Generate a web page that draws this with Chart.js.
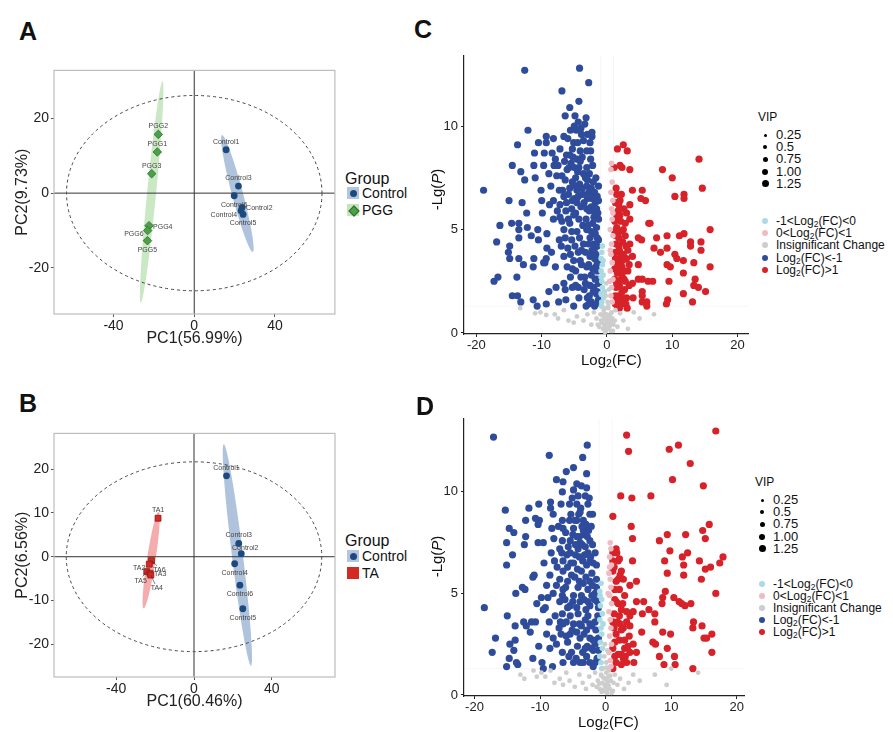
<!DOCTYPE html>
<html>
<head>
<meta charset="utf-8">
<script src="https://cdn.jsdelivr.net/npm/chart.js@4.4.1/dist/chart.umd.min.js"></script>
<style>
body { margin: 0; background: #fff; font-family: "Liberation Sans", Arial, sans-serif; color: #111; }
#page { position: relative; width: 893px; height: 732px; overflow: hidden; }
canvas { position: absolute; }
.t { position: absolute; white-space: nowrap; line-height: 1; }
.letter { font-size: 25px; font-weight: bold; }
.key { position: absolute; }
.dot { position: absolute; border-radius: 50%; }
sub { font-size: 70%; vertical-align: -2px; line-height: 0; }
</style>
</head>
<body>
<div id="page">
  <canvas id="pcaA" width="340" height="290" style="left:0;top:60px"></canvas>
  <canvas id="pcaB" width="340" height="290" style="left:0;top:423px"></canvas>
  <canvas id="volC" width="340" height="311" style="left:415px;top:45px"></canvas>
  <canvas id="volD" width="340" height="310" style="left:415px;top:408px"></canvas>

  <div class="t letter" style="left:19px;top:19px">A</div>
  <div class="t letter" style="left:19px;top:391px">B</div>
  <div class="t letter" style="left:414px;top:17px">C</div>
  <div class="t letter" style="left:416px;top:394px">D</div>

  <!-- PCA legends -->
  <div class="t" style="left:345px;top:171px;font-size:16px">Group</div>
  <div class="key" style="left:347px;top:187px;width:12px;height:12px;background:#b3c6de"></div>
  <div class="dot" style="left:350px;top:190px;width:7px;height:7px;background:#1c4a7e"></div>
  <div class="t" style="left:362px;top:186px;font-size:14px">Control</div>
  <div class="key" style="left:347px;top:204px;width:12px;height:12px;background:#c5e6bd"></div>
  <div class="key" style="left:349.5px;top:206.5px;width:6px;height:6px;background:#4e9f49;border:0.5px solid #2d6e2a;transform:rotate(45deg)"></div>
  <div class="t" style="left:362px;top:203px;font-size:14px">PGG</div>

  <div class="t" style="left:345px;top:533px;font-size:16px">Group</div>
  <div class="key" style="left:347px;top:550px;width:12px;height:12px;background:#b3c6de"></div>
  <div class="dot" style="left:350px;top:553px;width:7px;height:7px;background:#1c4a7e"></div>
  <div class="t" style="left:362px;top:549px;font-size:14px">Control</div>
  <div class="key" style="left:347px;top:567px;width:12px;height:12px;background:#d42a24"></div>
  <div class="t" style="left:362px;top:566px;font-size:14px">TA</div>

  <!-- volcano axis titles -->
  <div class="t" style="left:581px;top:352px;font-size:15px">Log<sub>2</sub>(FC)</div>
  <div class="t" style="left:416px;top:182px;font-size:15px;transform:rotate(-90deg)">-Lg(<i>P</i>)</div>
  <div class="t" style="left:578px;top:714px;font-size:15px">Log<sub>2</sub>(FC)</div>
  <div class="t" style="left:416px;top:549px;font-size:15px;transform:rotate(-90deg)">-Lg(<i>P</i>)</div>

  <div id="legC"></div>
  <div id="legD"></div>
</div>

<script>
// ---------- PCA, panel A (Control vs PGG) ----------
const pcaA_ctrlNames = ['Control1', 'Control3', 'Control6', 'Control2', 'Control4', 'Control5'];
const pcaA_ctrlPC1 = [15.8, 21.9, 19.8, 23.7, 23.2, 24.2];
const pcaA_ctrlPC2 = [11.6, 1.9, -0.7, -3.8, -4.7, -5.7];
const pcaA_ctrlLabelPos = ['a', 'a', 'b', 'r', 'l', 'b'];
const pcaA_pggNames = ['PGG2', 'PGG1', 'PGG3', 'PGG4', 'PGG6', 'PGG5'];
const pcaA_pggPC1 = [-17.8, -18.3, -21.1, -22.4, -23.1, -23.2];
const pcaA_pggPC2 = [15.7, 11.0, 5.2, -8.7, -10.0, -12.7];
const pcaA_pggLabelPos = ['a', 'a', 'a', 'r', 'l', 'b'];
// group ellipse major axis end points (PC1, PC2, PC1, PC2)
const pcaA_ctrlEllipse = [13.7, 15.5, 29.0, -15.7];
const pcaA_pggEllipse = [-15.7, 29.9, -26.5, -29.3];
const pcaA_hotelling = [63.3, 26.1];
const pcaA_xTicks = [-40, 0, 40];
const pcaA_yTicks = [-20, 0, 20];

// ---------- PCA, panel B (Control vs TA) ----------
const pcaB_ctrlNames = ['Control1', 'Control3', 'Control2', 'Control4', 'Control6', 'Control5'];
const pcaB_ctrlPC1 = [16.7, 23.0, 24.3, 20.9, 23.6, 25.1];
const pcaB_ctrlPC2 = [18.5, 3.05, 0.7, -1.6, -6.5, -11.9];
const pcaB_ctrlLabelPos = ['a', 'a', 'ar', 'b', 'b', 'b'];
const pcaB_taNames = ['TA1', 'TA6', 'TA2', 'TA5', 'TA3', 'TA4'];
const pcaB_taPC1 = [-18.5, -21.9, -23.0, -24.3, -22.6, -22.2];
const pcaB_taPC2 = [8.8, -0.9, -1.7, -3.4, -3.8, -4.2];
const pcaB_taLabelPos = ['a', 'br', 'l', 'bl', 'r', 'bb'];
const pcaB_ctrlEllipse = [15.3, 25.7, 29.3, -24.9];
const pcaB_taEllipse = [-18.2, 10.3, -25.9, -11.8];
const pcaB_hotelling = [65.7, 21.7];
const pcaB_xTicks = [-40, 0, 40];
const pcaB_yTicks = [-20, -10, 0, 10, 20];

// ---------- Volcano, panel C ----------
const volC_down = [
  [-12.6,12.7],[-4.2,12.8],[-2.8,12.1],[-6.9,11.7],[-4.3,11.2],[-5.7,10.9],[-6.4,10.5],[-4.9,10.5],
  [-12.1,9.8],[-3.4,10.1],[-4.0,9.9],[-5.0,10.0],[-2.3,9.7],[-2.3,9.5],[-13.7,9.1],[-10.5,9.2],
  [-9.3,9.5],[-8.2,9.4],[-9.3,9.2],[-6.6,9.5],[-6.0,9.4],[-5.1,9.2],[-2.6,9.2],[-11.1,8.7],
  [-9.6,8.7],[-8.4,8.7],[-7.2,8.9],[-6.2,8.6],[-4.1,8.8],[-2.5,8.8],[-14.5,8.1],[-13.2,7.8],
  [-11.2,8.1],[-9.7,8.1],[-8.1,8.1],[-7.9,8.4],[-6.5,8.3],[-5.7,8.6],[-5.2,8.5],[-12.6,7.4],
  [-11.0,7.5],[-8.9,7.7],[-7.7,7.6],[-6.1,7.9],[-3.1,8.0],[-2.5,8.4],[-18.9,6.9],[-15.0,6.4],
  [-10.1,6.9],[-8.6,7.1],[-7.3,6.9],[-6.6,6.6],[-5.9,6.7],[-4.6,6.9],[-3.1,7.1],[-2.0,6.7],
  [-13.0,6.3],[-10.0,6.4],[-8.2,6.4],[-7.2,6.2],[-5.4,6.0],[-3.1,6.0],[-1.8,6.3],[-12.3,5.8],
  [-13.5,5.3],[-8.2,5.5],[-7.2,5.6],[-5.9,5.5],[-4.8,5.8],[-3.2,5.5],[-2.0,5.6],[-16.4,5.2],
  [-14.6,5.3],[-12.2,5.1],[-10.6,5.0],[-9.2,4.8],[-6.6,5.0],[-4.6,4.9],[-3.1,5.0],[-1.8,4.8],
  [-16.9,4.4],[-14.9,4.2],[-13.5,5.0],[-13.5,4.6],[-11.6,4.7],[-10.5,4.5],[-9.2,4.1],[-7.3,4.5],
  [-5.4,4.5],[-3.6,4.3],[-2.0,4.3],[-15.1,3.9],[-14.9,3.6],[-13.5,3.6],[-11.2,3.6],[-9.3,3.6],
  [-6.6,3.7],[-5.1,3.5],[-4.1,3.5],[-2.6,3.7],[-1.7,3.8],[-12.8,3.3],[-9.7,3.4],[-7.9,3.2],
  [-6.1,3.2],[-4.8,3.0],[-3.1,3.2],[-1.7,3.2],[-16.7,2.7],[-17.3,2.5],[-13.8,2.7],[-11.3,3.2],
  [-9.5,3.4],[-7.8,2.2],[-6.6,2.4],[-4.8,2.3],[-3.3,2.4],[-2.0,2.2],[-14.5,1.8],[-13.7,1.8],
  [-11.3,1.6],[-8.9,2.0],[-6.4,2.1],[-3.0,1.7],[-1.6,1.9],[-13.2,1.5],[-10.7,1.3],[-9.3,1.4],
  [-7.4,1.5],[-6.3,1.6],[-5.1,1.3],[-3.2,1.3],[-1.9,1.3],[-1.3,1.6],[-1.3,2.4],[-1.3,3.5],
  [-1.3,4.5],[-1.3,5.5],[-1.3,6.4],[-1.3,7.1],[-5.5,8.2],[-5.0,8.0],[-4.5,7.8],[-4.8,7.5],
  [-5.3,7.3],[-4.2,7.2],[-3.8,7.0],[-2.8,6.8],[-2.4,6.5],[-3.5,6.3],[-4.0,6.1],[-2.7,5.9],
  [-2.2,5.3],[-1.6,5.1],[-2.6,4.6],[-4.2,4.6],[-3.9,4.0],[-2.3,4.0],[-1.5,3.0],[-2.4,2.8],
  [-1.8,2.6],[-1.5,2.0],[-2.4,1.5],[-4.0,2.7],[-5.6,2.7],[-6.0,4.1],[-5.7,5.3],[-6.3,5.9],
  [-5.0,6.5],[-4.4,6.6],[-3.3,7.5],[-2.7,7.7],[-3.8,8.5],[-4.5,9.2],[-3.0,9.6],[-4.7,9.8],
  [-3.6,9.3],[-2.1,7.3],[-1.6,6.0],[-1.5,4.2],[-1.9,3.6],[-2.8,3.3],[-3.5,2.1],[-6.8,6.9],
  [-7.6,5.9],[-8.8,6.2],[-7.0,4.2],[-8.5,3.9],[-9.9,5.8],
  [-5.8,8.0],[-5.3,8.9],[-4.6,8.4],[-4.3,8.0],[-3.6,7.7],[-3.0,7.4],[-2.4,7.0],[-1.9,6.8],
  [-1.5,6.6],[-1.9,5.9],[-2.4,6.1],[-3.0,6.5],[-3.7,6.7],[-4.6,6.3],[-5.3,6.4],[-5.1,5.7],
  [-4.3,5.5],[-3.7,5.2],[-2.9,5.2],[-2.4,4.9],[-1.5,4.6],[-1.9,4.1],[-2.8,4.3],[-3.3,3.9],
  [-4.4,3.9],[-5.6,3.8],[-6.4,4.6],[-6.9,5.4],[-6.2,6.3],[-6.9,7.6],[-7.5,8.1],[-5.4,4.9],
  [-4.9,4.2],[-3.9,3.3],[-2.2,3.1],[-1.5,2.6],[-2.1,2.0],[-2.7,1.8],[-1.7,1.4],[-2.8,1.4],
  [-4.3,1.7],[-4.4,2.2],[-5.3,2.2],[-5.3,3.1],[-3.4,2.7],[-2.6,2.3],[-1.5,3.4],[-2.0,3.9],
  [-1.4,5.8],[-1.7,7.5],[-2.2,8.1],[-3.9,9.6],[-5.6,9.8],[-3.2,10.4],[-4.4,10.2],[-3.1,8.8],
  [-4.1,8.3],[-4.8,7.1],[-5.7,7.0],[-6.4,7.4]
];
const volC_up = [
  [1.6,8.9],[2.5,9.1],[3.1,8.8],[1.1,8.0],[2.0,8.1],[2.3,8.0],[3.5,7.9],[8.5,7.9],[10.0,7.5],
  [14.1,8.4],[14.6,7.0],[3.9,6.9],[5.4,6.9],[2.2,6.7],[10.4,6.6],[11.8,6.7],[11.8,6.5],[5.2,6.5],
  [5.9,6.4],[3.5,6.2],[1.3,6.3],[1.7,5.9],[2.0,5.7],[2.1,5.4],[2.8,5.3],[3.5,5.5],[6.4,5.3],
  [6.6,5.3],[15.8,5.0],[1.2,4.9],[2.8,4.7],[4.8,4.6],[5.3,4.5],[7.6,4.6],[9.2,4.7],[11.1,4.7],
  [11.8,4.8],[1.4,4.3],[1.8,4.2],[3.5,4.3],[12.8,4.4],[14.4,4.4],[12.8,4.2],[7.2,4.1],[8.2,3.9],
  [9.2,4.1],[10.4,3.8],[10.7,3.6],[11.7,3.5],[14.4,4.0],[2.1,3.7],[3.9,3.7],[3.0,3.6],[2.3,3.2],
  [4.8,3.3],[9.2,3.3],[9.7,3.2],[13.3,3.4],[15.8,3.2],[1.6,2.9],[3.2,3.0],[11.7,2.9],[3.4,2.3],
  [3.9,2.4],[4.8,2.6],[5.4,2.6],[6.3,2.5],[7.0,2.5],[9.5,2.5],[13.5,2.6],[13.3,2.3],[14.0,2.2],
  [15.1,2.0],[1.4,2.2],[2.3,2.0],[1.8,1.8],[3.0,1.7],[4.0,1.7],[5.4,2.0],[5.4,1.8],[11.7,1.9],
  [13.1,1.5],[1.3,1.4],[2.3,1.4],[3.1,1.2],[5.4,1.5],[6.1,1.5],[6.1,1.3],[9.3,1.6],[9.1,1.4],
  [1.5,5.1],[1.8,4.6],[2.4,4.4],[1.3,3.9],[2.0,3.4],[2.6,3.0],[1.5,3.4],[2.2,2.6],[1.2,2.6],
  [1.9,2.3],[2.7,2.1],[1.6,1.6],[2.5,1.7],[1.9,1.2],[2.0,4.9],[1.5,5.6],[2.6,6.0],[3.2,4.0],
  [1.2,3.1],[2.9,4.2],[1.4,7.0],[1.8,6.2],
  [1.4,4.7],[1.9,4.0],[2.5,3.8],[1.3,3.6],[2.3,2.8],[1.5,2.4],[2.8,2.5],[2.1,1.5],[1.3,1.8],
  [2.9,1.4],[1.7,3.1],[2.4,3.5],[1.2,5.4],[2.0,6.4],[1.5,6.7],[2.5,5.0],[3.0,5.8],[1.6,1.3],
  [2.6,2.6],[3.4,3.3]
];
const volC_weakDown = [
  [-0.8,3.9],[-0.9,3.6],[-0.7,3.3],[-0.9,3.0],[-0.6,2.8],[-0.8,2.5],[-0.7,2.2],[-0.9,1.9],
  [-0.5,1.7],[-0.8,1.5],[-0.6,3.5],[-0.9,2.7],[-0.4,2.0],[-0.7,4.2],[-0.85,1.3]
];
const volC_weakUp = [
  [0.7,8.2],[0.6,7.9],[0.8,7.3],[0.6,6.8],[0.9,6.4],[0.7,6.0],[0.8,5.5],[0.5,5.0],[0.9,4.7],
  [0.7,4.3],[0.6,3.8],[0.8,3.4],[0.5,3.0],[0.9,2.6],[0.7,2.2],[0.6,1.8],[0.8,1.5],[0.4,2.5],
  [0.5,4.0],[0.9,5.8]
];
const volC_ns = [
  [-13.3,1.2],[-11.0,0.95],[-10.2,1.0],[-9.3,0.87],[-8.0,0.9],[-7.5,0.7],[-6.6,1.1],[-5.9,0.6],
  [-5.1,0.5],[-4.6,0.8],[-3.6,0.6],[-3.0,0.9],[-2.4,0.4],[-2.0,1.0],[-1.6,0.7],[-1.2,0.3],
  [-1.0,0.9],[-0.8,0.5],[-0.6,0.2],[-0.5,1.1],[-0.4,0.7],[-0.3,0.4],[-0.2,0.1],[-0.1,0.9],
  [0,0.5],[0.1,0.2],[0.2,1.2],[0.3,0.6],[0.4,0.3],[0.5,0.9],[0.6,0.1],[0.8,0.7],[1.0,0.4],
  [1.3,1.1],[1.6,0.3],[2.0,0.95],[2.5,0.6],[3.2,0.2],[4.1,1.0],[5.0,0.7],[7.2,0.9],
  [-0.3,0.05],[0.2,0.35],[-0.5,0.45],[0.6,0.55],[-0.15,0.65],[0.35,0.8],[-0.7,0.85],
  [-0.4,1.2],[0.1,1.5],[-0.2,1.8],[0.3,2.1],[-0.1,2.4],[0.2,1.3],[-0.6,0.9],[0.7,1.0],
  [-0.3,0.9],[0.45,0.45],[-0.45,0.25],[0.15,0.75],[-0.9,0.6],[1.2,0.6],[-1.4,0.4],[0.9,0.1]
];

// ---------- Volcano, panel D ----------
const volD_down = [
  [-17.1,12.7],[-2.8,12.3],[-8.6,11.8],[-3.5,11.7],[-4.9,11.2],[-6.0,11.0],[-2.9,10.9],[-7.5,10.6],
  [-6.5,10.5],[-4.4,10.4],[-3.7,10.3],[-2.9,10.2],[-6.6,10.0],[-4.9,10.1],[-4.2,9.8],[-10.2,9.4],
  [-8.4,9.5],[-6.8,9.4],[-5.5,9.4],[-4.4,9.4],[-2.7,9.4],[-15.3,9.1],[-11.7,9.2],[-8.4,9.2],
  [-8.0,8.9],[-3.8,9.2],[-2.4,8.9],[-12.2,8.6],[-10.7,8.7],[-10.1,8.6],[-6.6,8.6],[-5.5,8.6],
  [-4.4,8.6],[-3.4,8.6],[-2.0,8.9],[-14.7,8.2],[-14.0,8.0],[-10.3,8.4],[-8.2,8.2],[-6.5,8.2],
  [-4.9,8.2],[-3.4,8.1],[-12.2,7.8],[-15.1,7.5],[-10.3,7.5],[-9.5,7.5],[-7.9,7.7],[-6.6,7.6],
  [-5.4,7.6],[-3.9,7.5],[-2.4,7.6],[-14.2,6.9],[-12.4,7.4],[-8.3,7.0],[-7.0,7.2],[-5.4,7.0],
  [-4.2,7.2],[-2.7,7.0],[-15.1,6.4],[-9.4,6.5],[-6.5,6.6],[-4.9,6.5],[-2.9,6.4],[-1.4,6.4],
  [-10.9,5.9],[-11.1,5.8],[-8.5,5.9],[-6.5,6.1],[-5.2,5.9],[-3.7,6.1],[-2.1,6.0],[-1.4,5.7],
  [-9.0,5.4],[-7.5,5.4],[-6.5,5.2],[-4.2,5.3],[-2.4,5.6],[-1.4,5.3],[-12.7,5.3],[-12.3,5.2],
  [-13.7,5.0],[-6.6,4.9],[-4.9,4.9],[-3.7,4.9],[-2.1,4.9],[-9.8,4.8],[-8.8,4.8],[-10.5,4.5],
  [-9.2,4.3],[-18.5,4.3],[-9.5,4.2],[-7.0,4.6],[-5.4,4.4],[-3.9,4.6],[-2.4,4.4],[-1.1,4.3],
  [-15.0,3.9],[-6.6,4.0],[-5.4,3.9],[-4.2,4.0],[-2.7,3.9],[-1.2,3.9],[-12.5,3.6],[-11.3,3.6],
  [-10.7,3.6],[-8.6,3.6],[-12.1,3.4],[-13.8,3.4],[-6.5,3.5],[-4.9,3.5],[-3.7,3.4],[-2.1,3.4],
  [-16.8,2.8],[-11.5,3.1],[-14.6,2.5],[-13.8,2.7],[-8.0,2.8],[-6.8,3.0],[-5.4,3.0],[-3.9,2.8],
  [-2.4,2.8],[-1.1,2.8],[-17.3,2.1],[-14.0,2.2],[-8.5,2.3],[-7.5,2.5],[-6.6,2.1],[-5.2,2.1],
  [-3.5,2.1],[-1.9,2.2],[-1.1,2.2],[-14.7,1.8],[-13.6,1.6],[-11.1,1.8],[-15.1,1.4],[-13.4,1.5],
  [-9.7,1.6],[-9.5,1.3],[-8.1,1.4],[-6.5,1.6],[-4.9,1.6],[-3.9,1.6],[-2.4,1.6],[-1.6,1.6],
  [-3.0,8.4],[-3.3,7.9],[-4.0,7.8],[-4.6,7.4],[-3.1,7.3],[-2.3,6.8],[-3.5,6.6],[-4.3,6.2],
  [-3.0,5.8],[-2.7,5.2],[-3.3,4.7],[-1.7,4.7],[-1.6,3.6],[-3.1,3.7],[-4.4,3.1],[-2.9,3.2],
  [-1.6,2.5],[-2.8,2.4],[-5.8,5.6],[-5.9,6.9],[-5.0,7.9],[-6.1,8.0],[-7.2,8.3],[-7.4,6.3],
  [-8.0,5.0],[-7.7,3.9],[-7.1,3.3],[-9.0,3.0],[-10.2,2.4],[-5.8,2.6],[-4.3,2.4],[-6.2,4.7],
  [-7.8,6.6],[-3.9,9.0],[-5.1,9.7],
  [-5.3,8.9],[-4.7,8.6],[-4.1,8.9],[-3.1,9.8],[-2.5,9.7],[-3.6,8.3],[-2.6,8.1],[-2.0,7.4],
  [-1.6,7.0],[-1.9,6.5],[-2.4,6.6],[-3.2,6.9],[-4.0,6.8],[-4.6,6.9],[-5.3,6.5],[-5.8,6.3],
  [-4.7,5.8],[-4.0,5.6],[-3.4,5.5],[-2.0,5.4],[-1.6,5.0],[-1.3,4.6],[-2.7,4.6],[-3.0,4.2],
  [-4.4,4.3],[-5.0,4.6],[-5.8,4.3],[-6.0,3.6],[-5.1,3.2],[-4.0,3.5],[-3.3,3.0],[-2.4,3.5],
  [-1.5,3.2],[-1.9,2.7],[-2.2,2.3],[-3.1,2.3],[-3.4,1.6],[-2.9,1.9],[-1.3,1.8],[-1.9,1.4],
  [-4.5,1.8],[-5.6,1.9],[-6.0,2.9],[-6.9,3.6],[-6.1,5.3],[-7.0,5.7],[-6.7,7.0],[-5.7,7.3],
  [-4.4,7.8],[-3.6,7.4],[-2.8,7.8],[-2.2,8.3]
];
const volD_up = [
  [3.2,12.8],[3.5,12.0],[16.8,13.0],[9.7,12.1],[11.1,12.3],[12.9,11.4],[10.2,10.6],[14.9,10.3],
  [2.3,9.8],[4.0,9.7],[6.9,9.8],[1.1,8.8],[3.9,8.3],[4.1,7.7],[15.8,8.4],[14.8,8.1],[9.4,7.9],
  [12.2,7.9],[15.2,7.7],[8.2,7.6],[9.8,7.1],[12.5,7.0],[11.7,6.8],[9.0,6.6],[11.9,6.4],[14.3,6.6],
  [17.9,6.8],[17.4,6.5],[16.0,6.3],[15.2,6.2],[9.4,6.0],[11.9,5.9],[14.6,5.7],[16.8,5.0],[4.7,5.6],
  [4.1,6.6],[1.9,6.6],[1.6,7.2],[1.1,7.0],[2.1,6.7],[2.4,6.1],[2.7,5.7],[3.7,5.4],[9.1,5.1],
  [8.7,4.8],[8.6,4.5],[10.4,4.8],[11.2,4.6],[11.6,4.5],[12.1,4.4],[13.0,4.5],[4.7,4.6],[5.8,4.6],
  [6.6,4.2],[5.6,4.0],[7.5,4.0],[7.5,3.6],[13.4,3.6],[13.3,3.3],[14.7,3.4],[15.0,2.8],[15.4,2.8],
  [16.2,3.0],[16.2,2.1],[8.7,3.1],[9.9,3.0],[7.2,2.6],[7.6,2.5],[5.5,3.1],[3.6,2.9],[4.2,2.5],
  [4.7,2.1],[9.4,2.3],[8.2,1.9],[10.5,1.9],[10.6,1.5],[8.9,1.5],[4.3,1.6],[13.3,1.3],[1.1,1.3],
  [1.6,1.6],[2.4,2.0],[2.9,2.3],[3.2,1.6],[1.1,2.3],[1.6,3.0],[1.1,3.6],[2.1,3.9],[3.2,4.1],
  [3.7,3.9],[1.6,4.6],[1.4,5.2],[2.9,4.9],[2.1,5.2],[1.1,6.1],[1.9,5.7],[3.2,3.6],[2.7,3.3],
  [3.7,3.4],[4.2,4.1],[1.1,6.6],[1.4,4.7],[3.7,2.1],[2.7,1.8],
  [1.3,6.3],[1.6,5.6],[2.2,5.9],[1.9,4.5],[2.4,4.2],[1.3,4.0],[1.8,3.6],[2.4,3.2],[1.3,3.3],
  [2.1,2.7],[1.4,2.6],[2.9,2.7],[3.4,2.4],[1.9,2.0],[2.4,1.5],[1.4,1.9],[3.0,1.9],[2.2,3.5],
  [2.6,4.5],[1.7,7.0]
];
const volD_weakDown = [
  [-0.7,5.5],[-0.9,5.1],[-0.6,4.7],[-0.8,4.4],[-0.5,4.0],[-0.9,3.7],[-0.7,3.3],[-0.6,3.0],
  [-0.8,2.6],[-0.5,2.3],[-0.9,1.9],[-0.7,1.6],[-0.6,1.3],[-0.4,3.5],[-0.85,4.9]
];
const volD_weakUp = [
  [0.7,7.5],[0.8,7.2],[0.6,6.8],[0.9,6.4],[0.5,6.0],[0.7,5.7],[0.8,5.3],[0.6,4.9],[0.9,4.5],
  [0.5,4.1],[0.7,3.7],[0.8,3.3],[0.6,2.9],[0.9,2.5],[0.5,2.1],[0.7,1.7],[0.8,1.4],[0.4,5.0],
  [0.6,6.3]
];
const volD_ns = [
  [-13.0,1.0],[-12.4,0.8],[-11.0,1.2],[-10.5,0.9],[-9.8,1.1],[-9.2,0.9],[-8.4,1.2],[-7.8,0.6],
  [-7.0,0.8],[-6.5,0.5],[-6.0,1.1],[-5.5,0.7],[-4.7,0.4],[-4.0,1.0],[-3.5,0.6],[-3.0,0.3],
  [-2.5,0.9],[-2.0,0.5],[-1.6,1.1],[-1.2,0.7],[-0.9,0.3],[-0.7,1.0],[-0.5,0.6],[-0.3,0.2],
  [-0.1,0.8],[0,0.4],[0.1,1.1],[0.2,0.1],[0.3,0.6],[0.4,0.9],[0.6,0.3],[0.8,0.7],[1.1,0.2],
  [1.4,1.0],[1.8,0.5],[2.2,0.8],[2.8,0.3],[3.5,0.6],[4.2,1.0],[5.2,0.7],[7.5,1.0],[10.0,1.3],
  [14.1,1.1],[9.3,0.5],[-0.2,0.5],[0.3,0.3],[-0.6,0.15],[0.5,1.2],
  [-0.4,1.3],[0.1,1.6],[-0.2,1.9],[0.25,2.2],[-0.1,2.5],[0.15,1.35],[-0.65,0.95],[0.7,0.95],
  [-0.35,0.85],[0.45,0.45],[-0.45,0.25],[0.15,0.75],[-0.95,0.55],[1.2,0.6],[-1.4,0.4],[0.9,0.1]
];

const volXTicks = [-20, -10, 0, 10, 20];
const volYTicks = [0, 5, 10];
const volFcLines = [-1, 1];
const volPLine = 1.3;
const vipLevels = ['0.25', '0.5', '0.75', '1.00', '1.25'];
const volCategories = ['-1<Log2(FC)<0', '0<Log2(FC)<1', 'Insignificant Change', 'Log2(FC)<-1', 'Log2(FC)>1'];

// ---------------------------------------------------------------
Chart.defaults.font.family = '"Liberation Sans", Arial, sans-serif';
Chart.defaults.color = '#222';

const COL = {
  ctrl: '#1c4a7e', ctrlFill: 'rgba(90,130,182,0.48)',
  pgg: '#4e9f49', pggEdge: '#2d6e2a', pggFill: 'rgba(140,205,125,0.45)',
  ta: '#d42a24', taEdge: '#8e1a17', taFill: 'rgba(235,90,90,0.5)',
  down: '#2e4c9b', up: '#d7222a', weakDown: '#a9dce2', weakUp: '#efbcc3', ns: '#cdcdcd'
};

function pts(a, b, names, pos) {
  return a.map((v, i) => ({ x: v, y: b[i], name: names ? names[i] : '', pos: pos ? pos[i] : '' }));
}

// label offsets for sample names (ggrepel-like)
const labelOff = {
  a: [0, -8, 'center'], b: [0, 9, 'center'], r: [4, 1, 'left'], l: [-4, 4, 'right'],
  ar: [4, -6, 'center'], br: [8, 9, 'center'], bl: [-6, 9, 'center'], bb: [6, 13, 'center']
};

const pcaDecor = {
  id: 'pcaDecor',
  beforeDatasetsDraw(chart, args, opts) {
    const { ctx, chartArea: a, scales: { x, y } } = chart;
    ctx.save();
    ctx.beginPath();
    ctx.rect(a.left, a.top, a.width, a.height);
    ctx.clip();
    opts.ellipses.forEach(function (e) {
      const x1 = x.getPixelForValue(e.ends[0]), y1 = y.getPixelForValue(e.ends[1]);
      const x2 = x.getPixelForValue(e.ends[2]), y2 = y.getPixelForValue(e.ends[3]);
      ctx.beginPath();
      ctx.ellipse((x1 + x2) / 2, (y1 + y2) / 2, Math.hypot(x2 - x1, y2 - y1) / 2, e.half,
        Math.atan2(y2 - y1, x2 - x1), 0, Math.PI * 2);
      ctx.fillStyle = e.fill;
      ctx.fill();
    });
    const x0 = x.getPixelForValue(0), y0 = y.getPixelForValue(0);
    ctx.strokeStyle = '#333';
    ctx.lineWidth = 1;
    ctx.beginPath();
    ctx.moveTo(x0, a.top); ctx.lineTo(x0, a.bottom);
    ctx.moveTo(a.left, y0); ctx.lineTo(a.right, y0);
    ctx.stroke();
    // Hotelling T2 ellipse
    ctx.setLineDash([3, 3]);
    ctx.strokeStyle = '#444';
    ctx.beginPath();
    ctx.ellipse(x0, y0, x.getPixelForValue(opts.t2[0]) - x0, y0 - y.getPixelForValue(opts.t2[1]), 0, 0, Math.PI * 2);
    ctx.stroke();
    ctx.restore();
  },
  afterDatasetsDraw(chart) {
    const { ctx, chartArea: a } = chart;
    ctx.save();
    ctx.font = '7px "Liberation Sans", Arial, sans-serif';
    ctx.fillStyle = '#444';
    ctx.textBaseline = 'middle';
    chart.data.datasets.forEach(function (ds, di) {
      const meta = chart.getDatasetMeta(di);
      ds.data.forEach(function (p, i) {
        const el = meta.data[i];
        const o = labelOff[p.pos] || labelOff.a;
        if (p.pos === 'br' || p.pos === 'bl' || p.pos === 'bb') {
          ctx.strokeStyle = '#333';
          ctx.lineWidth = 0.6;
          ctx.beginPath();
          ctx.moveTo(el.x, el.y);
          ctx.lineTo(el.x + o[0] * 0.7, el.y + o[1] - 4);
          ctx.stroke();
        }
        ctx.textAlign = o[2];
        ctx.fillText(p.name, el.x + o[0], el.y + o[1]);
      });
    });
    ctx.strokeStyle = '#bdbdbd';
    ctx.lineWidth = 1.2;
    ctx.strokeRect(a.left, a.top, a.width, a.height);
    ctx.restore();
  }
};

function pcaChart(id, cfg) {
  new Chart(document.getElementById(id), {
    type: 'scatter',
    data: { datasets: cfg.sets },
    options: {
      responsive: false, animation: false, events: [],
      layout: { padding: { top: 10, right: 3, left: 13, bottom: 0 } },
      plugins: {
        legend: { display: false }, tooltip: { enabled: false },
        pcaDecor: { ellipses: cfg.ellipses, t2: cfg.t2 }
      },
      scales: {
        x: {
          type: 'linear', min: cfg.xr[0], max: cfg.xr[1],
          afterBuildTicks: s => { s.ticks = cfg.xt.map(v => ({ value: v })); },
          afterFit: s => { s.height = 36; },
          grid: { drawOnChartArea: false, tickLength: 3, color: '#555' },
          border: { display: false },
          ticks: { font: { size: 14 }, color: '#222', padding: 1, maxRotation: 0 },
          title: { display: true, text: cfg.xTitle, font: { size: 16 }, color: '#222', padding: { top: 0, bottom: 2 } }
        },
        y: {
          type: 'linear', min: cfg.yr[0], max: cfg.yr[1],
          afterBuildTicks: s => { s.ticks = cfg.yt.map(v => ({ value: v })); },
          afterFit: s => { s.width = 41; },
          grid: { drawOnChartArea: false, tickLength: 3, color: '#555' },
          border: { display: false },
          ticks: { font: { size: 14 }, color: '#222', padding: 2 },
          title: { display: true, text: cfg.yTitle, font: { size: 16 }, color: '#222', padding: { top: 0, bottom: 4 } }
        }
      }
    },
    plugins: [pcaDecor]
  });
}

pcaChart('pcaA', {
  sets: [
    { data: pts(pcaA_pggPC1, pcaA_pggPC2, pcaA_pggNames, pcaA_pggLabelPos), pointStyle: 'rectRot', pointRadius: 4.3,
      backgroundColor: COL.pgg, borderColor: COL.pggEdge, borderWidth: 0.8 },
    { data: pts(pcaA_ctrlPC1, pcaA_ctrlPC2, pcaA_ctrlNames, pcaA_ctrlLabelPos), pointStyle: 'circle', pointRadius: 3.4,
      backgroundColor: COL.ctrl, borderColor: COL.ctrl, borderWidth: 0 }
  ],
  ellipses: [
    { ends: pcaA_pggEllipse, half: 4.5, fill: COL.pggFill },
    { ends: pcaA_ctrlEllipse, half: 5.5, fill: COL.ctrlFill }
  ],
  t2: pcaA_hotelling, xr: [-69.5, 69.7], yr: [-32.3, 32.8], xt: pcaA_xTicks, yt: pcaA_yTicks,
  xTitle: 'PC1(56.99%)', yTitle: 'PC2(9.73%)'
});

pcaChart('pcaB', {
  sets: [
    { data: pts(pcaB_taPC1, pcaB_taPC2, pcaB_taNames, pcaB_taLabelPos), pointStyle: 'rect', pointRadius: 4.2,
      backgroundColor: COL.ta, borderColor: COL.taEdge, borderWidth: 0.8 },
    { data: pts(pcaB_ctrlPC1, pcaB_ctrlPC2, pcaB_ctrlNames, pcaB_ctrlLabelPos), pointStyle: 'circle', pointRadius: 3.4,
      backgroundColor: COL.ctrl, borderColor: COL.ctrl, borderWidth: 0 }
  ],
  ellipses: [
    { ends: pcaB_taEllipse, half: 4.3, fill: COL.taFill },
    { ends: pcaB_ctrlEllipse, half: 5.5, fill: COL.ctrlFill }
  ],
  t2: pcaB_hotelling, xr: [-72, 72.5], yr: [-27.5, 28.2], xt: pcaB_xTicks, yt: pcaB_yTicks,
  xTitle: 'PC1(60.46%)', yTitle: 'PC2(6.56%)'
});

// faint threshold lines of the volcano plots
const volGuides = {
  id: 'volGuides',
  beforeDatasetsDraw(chart) {
    const { ctx, chartArea: a, scales: { x, y } } = chart;
    ctx.save();
    ctx.strokeStyle = 'rgba(0,0,0,0.035)';
    ctx.lineWidth = 1;
    ctx.beginPath();
    volFcLines.forEach(function (v) {
      const px = x.getPixelForValue(v);
      ctx.moveTo(px, a.top); ctx.lineTo(px, a.bottom);
    });
    const py = y.getPixelForValue(volPLine);
    ctx.moveTo(a.left, py); ctx.lineTo(a.right, py);
    ctx.stroke();
    ctx.restore();
  }
};

function volcanoChart(id, groups, xr, yr, padRight) {
  new Chart(document.getElementById(id), {
    type: 'scatter',
    data: {
      datasets: groups.map(g => ({
        data: g.d.map(p => ({ x: p[0], y: p[1] })),
        backgroundColor: g.c, borderWidth: 0, pointRadius: g.r
      }))
    },
    options: {
      responsive: false, animation: false, events: [],
      layout: { padding: { top: 10, right: padRight, left: 0, bottom: 0 } },
      plugins: { legend: { display: false }, tooltip: { enabled: false } },
      scales: {
        x: {
          type: 'linear', min: xr[0], max: xr[1],
          afterBuildTicks: s => { s.ticks = volXTicks.map(v => ({ value: v })); },
          afterFit: s => { s.height = 22; },
          grid: { drawOnChartArea: false, tickLength: 3, color: '#222' },
          border: { display: true, color: '#222', width: 1.2 },
          ticks: { font: { size: 13 }, color: '#222', padding: 1, maxRotation: 0 }
        },
        y: {
          type: 'linear', min: yr[0], max: yr[1],
          afterBuildTicks: s => { s.ticks = volYTicks.map(v => ({ value: v })); },
          afterFit: s => { s.width = 49; },
          grid: { drawOnChartArea: false, tickLength: 3, color: '#222' },
          border: { display: true, color: '#222', width: 1.2 },
          ticks: { font: { size: 13 }, color: '#222', padding: 3 }
        }
      }
    },
    plugins: [volGuides]
  });
}

volcanoChart('volC', [
  { d: volC_ns, c: COL.ns, r: 2.4 },
  { d: volC_weakDown, c: COL.weakDown, r: 2.8 },
  { d: volC_weakUp, c: COL.weakUp, r: 2.8 },
  { d: volC_down, c: COL.down, r: 3.6 },
  { d: volC_up, c: COL.up, r: 3.6 }
], [-21.9, 21.6], [-0.05, 13.4], 7);

volcanoChart('volD', [
  { d: volD_ns, c: COL.ns, r: 2.4 },
  { d: volD_weakDown, c: COL.weakDown, r: 2.8 },
  { d: volD_weakUp, c: COL.weakUp, r: 2.8 },
  { d: volD_down, c: COL.down, r: 3.6 },
  { d: volD_up, c: COL.up, r: 3.6 }
], [-21.6, 21.1], [-0.05, 13.6], 11);

// volcano legends (VIP sizes + colour classes)
function volLegend(el, x, vipTop, colTop) {
  const box = document.getElementById(el);
  let html = '<div class="t" style="left:' + (x - 7) + 'px;top:' + (vipTop - 6) + 'px;font-size:12px">VIP</div>';
  vipLevels.forEach(function (v, i) {
    const cy = vipTop + 18 + i * 12.2, d = 3 + i;
    html += '<div class="dot" style="background:#000;left:' + (x - d / 2) + 'px;top:' + (cy - d / 2) + 'px;width:' + d + 'px;height:' + d + 'px"></div>';
    html += '<div class="t" style="left:' + (x + 11) + 'px;top:' + (cy - 7) + 'px;font-size:13px">' + v + '</div>';
  });
  const cols = [COL.weakDown, COL.weakUp, COL.ns, COL.down, COL.up];
  volCategories.forEach(function (c, i) {
    const cy = colTop + i * 12.2;
    const txt = c.replace(/</g, '&lt;').replace(/>/g, '&gt;').replace(/Log2/g, 'Log<sub>2</sub>');
    html += '<div class="dot" style="background:' + cols[i] + ';left:' + (x - 3) + 'px;top:' + (cy - 3) + 'px;width:6px;height:6px"></div>';
    html += '<div class="t" style="left:' + (x + 11) + 'px;top:' + (cy - 6) + 'px;font-size:12px">' + txt + '</div>';
  });
  box.innerHTML = html;
}
volLegend('legC', 765, 117, 221);
volLegend('legD', 762, 482, 583.5);
</script>
</body>
</html>
